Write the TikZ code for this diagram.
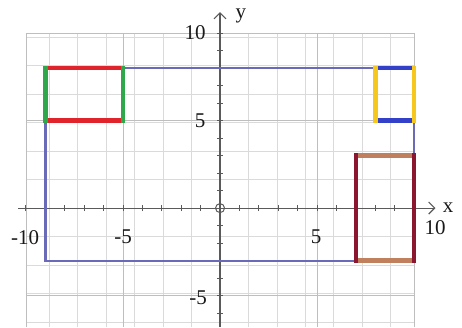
\documentclass[tikz,border=0pt]{standalone}
\usepackage{fontspec}
\setmainfont{Liberation Serif}
\usetikzlibrary{arrows.meta}
\definecolor{cgrid}{HTML}{DADADA}
\definecolor{cgridmajor}{HTML}{BEBEBE}
\definecolor{caxis}{HTML}{5A5A5A}
\definecolor{cpath}{HTML}{6A6AB8}
\definecolor{cred}{HTML}{E0242C}
\definecolor{cgreen}{HTML}{2EA84A}
\definecolor{cyellow}{HTML}{F6C81E}
\definecolor{cblue}{HTML}{3340C8}
\definecolor{cmaroon}{HTML}{8A1630}
\definecolor{ctan}{HTML}{C0805E}
\tikzset{
  every picture/.style={font=\fontsize{21}{24}\selectfont},
  boxside/.style={draw=#1, line width=4.5pt, line cap=rect},
  axis/.style={draw=caxis, line width=1.1pt, -{Straight Barb[length=6pt, width=12pt]}},
  ticklabel/.style={text=black!90, inner sep=0pt},
}

\begin{document}
\begin{tikzpicture}[x=19.4pt, y=17.5pt]
  \useasboundingbox (-11.34,-6.8) rectangle (12.47,11.89);
  % grid
  \draw[cgrid, line width=0.8pt] (-10,-6.8) grid (10,10);
  \foreach \k in {-10,-5,5,10} \draw[cgridmajor, line width=0.9pt] (\k,-6.8) -- (\k,10);
  \foreach \k in {-5,5,10} \draw[cgridmajor, line width=0.9pt] (-10,\k) -- (10,\k);
  % axes
  \draw[axis] (-10.4,0) -- (11.1,0);
  \draw[axis] (0,-6.8) -- (0,11.2);
  \foreach \k in {-10,...,10} \draw[caxis, line width=1pt] (\k,-0.17) -- (\k,0.17);
  \foreach \k in {-6,...,10} \draw[caxis, line width=1pt] (-0.15,\k) -- (0.15,\k);
  \draw[caxis, line width=1pt] (0,0) circle (4.5pt);
  \node[ticklabel] (xlab) at (11.75,0.05) {x};
  \node[ticklabel] (ylab) at (1.08,11.0) {y};
  \node[ticklabel] (xmten) at (-10.05,-1.66) {-10};
  \node[ticklabel] (xmfive) at (-5,-1.66) {-5};
  \node[ticklabel] (xfive) at (4.95,-1.66) {5};
  \node[ticklabel] (xten) at (11.08,-1.14) {10};
  \node[ticklabel] (yten) at (-1.29,10) {10};
  \node[ticklabel] (yfive) at (-1.03,4.97) {5};
  \node[ticklabel] (ymfive) at (-1.13,-5.1) {-5};
  % outline
  \draw[cpath, line width=2.2pt] (-9,-3) rectangle (10,8);
  % left box
  \draw[boxside=cred] (-9,8) -- (-5,8) (-9,5) -- (-5,5);
  \draw[boxside=cgreen] (-9,5) -- (-9,8) (-5,5) -- (-5,8);
  % top right box
  \draw[boxside=cblue] (8,8) -- (10,8) (8,5) -- (10,5);
  \draw[boxside=cyellow] (8,5) -- (8,8) (10,5) -- (10,8);
  % bottom right box
  \draw[boxside=ctan] (7,3) -- (10,3) (7,-3) -- (10,-3);
  \draw[boxside=cmaroon] (7,-3) -- (7,3) (10,-3) -- (10,3);
\end{tikzpicture}
\end{document}
